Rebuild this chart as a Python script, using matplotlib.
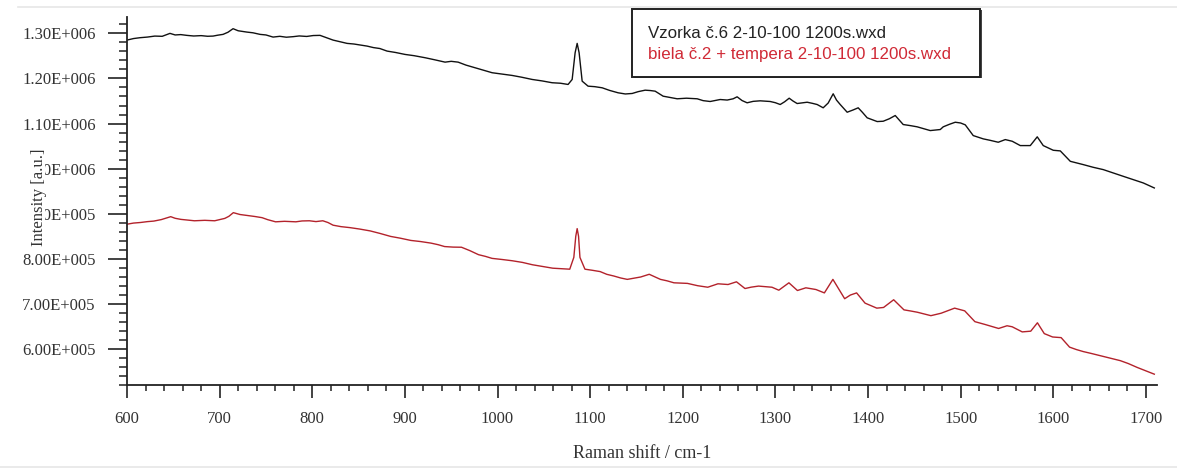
import matplotlib
matplotlib.use("Agg")
import matplotlib.pyplot as plt
from matplotlib.ticker import MultipleLocator, FuncFormatter
from matplotlib.patches import Rectangle
from matplotlib.lines import Line2D

# Raman spectra (shift in cm-1, intensity in a.u.)
shift_sample = [600, 607, 614, 622, 630, 638, 646.4, 652, 658, 664.5, 672, 680, 687, 692.9,
                698, 703.7, 709, 714.5, 720, 729.3, 736, 743.6, 750, 757.7, 765, 772, 779.3,
                786, 794, 801, 808.4, 815, 822.5, 830, 837.6, 845, 852, 859.2, 866, 873,
                880.8, 890, 900.2, 910, 921.8, 932, 943.4, 950, 957.5, 966, 975.8, 985,
                994.2, 1005, 1015.8, 1026, 1037.4, 1048, 1059, 1068, 1076.2, 1080.6, 1083.8,
                1086, 1088.1, 1091.4, 1097.8, 1105, 1113, 1121, 1130.2, 1138, 1145.4, 1152,
                1159.4, 1165, 1170.2, 1178.8, 1186, 1194, 1204, 1215.6, 1222, 1229.6, 1240.4,
                1248, 1254.4, 1258.7, 1264, 1269.5, 1276, 1283.6, 1294.4, 1300, 1305.2,
                1310, 1314.9, 1319, 1323.5, 1334.3, 1340, 1345.1, 1351.6, 1357, 1362.4,
                1366, 1370, 1377.5, 1384, 1389.4, 1394, 1399.1, 1409.9, 1416.4, 1423,
                1429.4, 1438, 1446, 1453.1, 1467.2, 1478, 1481.2, 1488, 1494.2, 1500, 1505,
                1513.6, 1524.4, 1532, 1540.6, 1548.2, 1555.7, 1564.4, 1575.2, 1582.7,
                1589.2, 1600, 1607.6, 1618.4, 1625, 1632.4, 1643, 1654, 1665, 1675.6, 1686,
                1697.2, 1709.1]
intensity_sample = [1285100, 1288500, 1290400, 1291800, 1294000, 1293500, 1300000, 1296500,
                    1297300, 1295600, 1294200, 1295000, 1293600, 1294000, 1296000, 1297800,
                    1302500, 1310400, 1305800, 1302900, 1301300, 1297800, 1296500, 1291800,
                    1293500, 1291500, 1292700, 1294300, 1293200, 1295200, 1295600, 1290800,
                    1285100, 1281500, 1277800, 1276400, 1274200, 1271800, 1268500, 1266400,
                    1260700, 1257600, 1253300, 1250500, 1246000, 1241500, 1236200, 1238000,
                    1236200, 1229600, 1223800, 1218500, 1212700, 1209700, 1206700, 1202800,
                    1197800, 1194600, 1190500, 1189400, 1186700, 1197800, 1257100, 1277800,
                    1257100, 1194000, 1182900, 1181800, 1179300, 1173500, 1168200, 1165600,
                    1166700, 1170800, 1174000, 1173200, 1171800, 1160700, 1158000, 1154900,
                    1156200, 1154900, 1150800, 1148900, 1153300, 1152100, 1154900, 1159300,
                    1151000, 1146000, 1149200, 1150400, 1148900, 1146200, 1142200, 1148300,
                    1156200, 1150000, 1144400, 1147300, 1144800, 1142200, 1134900, 1145500,
                    1166000, 1152000, 1142200, 1125100, 1130200, 1134900, 1124800, 1112700,
                    1104400, 1105100, 1110600, 1117800, 1097800, 1095300, 1092700, 1084400,
                    1086700, 1092700, 1098400, 1102900, 1101200, 1097100, 1073300, 1066000,
                    1062700, 1058500, 1064400, 1060700, 1051100, 1051100, 1070500, 1051100,
                    1040700, 1039300, 1016200, 1012800, 1008900, 1003000, 997800, 990100,
                    982900, 975800, 968200, 957100]

shift_reference = [600, 607, 614.6, 622, 628.9, 637, 647.2, 652, 658.2, 665, 672.8, 684,
                   694.7, 700, 705.6, 710, 714.8, 722, 731.2, 738, 745.8, 752, 760.4, 770,
                   782.3, 789, 796.9, 804, 811.4, 817, 822.5, 831, 840.7, 851, 862.6, 873,
                   884.6, 895, 906.4, 917, 928.3, 936, 942.9, 952, 961.1, 970, 979.5, 987,
                   994.1, 1005, 1016, 1027, 1037.8, 1049, 1059.7, 1069, 1078, 1082.4, 1084.5,
                   1086, 1087.5, 1089, 1094.4, 1102, 1110.8, 1118, 1125.5, 1133, 1140.1,
                   1154.6, 1163.8, 1175.9, 1183, 1190.5, 1205.1, 1216, 1227, 1238, 1248.9,
                   1258, 1267.2, 1274, 1281.8, 1296.3, 1303.7, 1314.6, 1323.8, 1332.9,
                   1343.8, 1352.9, 1362.1, 1369.4, 1374.8, 1381, 1387.7, 1396.8, 1409.5,
                   1416.8, 1427.7, 1438.8, 1446, 1453.3, 1467.9, 1478.9, 1493.5, 1504.4,
                   1515.4, 1526.3, 1541, 1550.1, 1555.6, 1566.5, 1575.7, 1582.9, 1590.3,
                   1599.3, 1608.5, 1617.6, 1625, 1632.3, 1641, 1650.5, 1661, 1672.4, 1681,
                   1690.7, 1700, 1709.1]
intensity_reference = [876700, 879200, 880500, 882400, 883600, 886900, 893400, 889800,
                       887400, 886000, 884300, 885300, 884300, 886800, 889600, 894200,
                       902300, 898200, 895600, 893800, 891200, 886700, 882000, 883100,
                       882000, 883900, 884300, 882500, 884300, 880400, 874500, 871300,
                       869100, 866000, 861800, 856300, 849600, 845700, 840700, 838200,
                       834700, 831200, 827100, 825900, 825600, 818200, 809100, 805300,
                       800900, 798400, 795600, 791900, 786700, 782700, 779100, 778100,
                       776900, 803100, 850000, 866900, 850000, 803100, 776900, 774600,
                       771600, 765500, 761800, 757400, 754300, 759600, 765600, 754300,
                       751100, 746700, 745400, 740300, 736900, 744500, 742900, 748900,
                       734000, 737100, 739400, 736900, 730300, 746700, 729600, 735600,
                       731800, 724300, 754300, 729600, 711400, 719600, 724300, 701600,
                       690500, 692000, 709100, 686700, 684200, 681400, 673800, 679200,
                       690500, 684500, 660500, 654300, 645400, 651400, 649200, 637800,
                       639400, 658000, 634000, 626500, 625100, 604000, 598600, 594200,
                       590000, 585100, 579800, 574000, 567600, 558900, 551300, 544000]

legend_labels = ["Vzorka č.6 2-10-100 1200s.wxd", "biela č.2 + tempera 2-10-100 1200s.wxd"]
x_label = "Raman shift / cm-1"
y_label = "Intensity [a.u.]"

BLACK = "#111111"
RED_LINE = "#b3222b"
RED_TEXT = "#d02a36"
W, H = 1177, 470

fig = plt.figure(figsize=(W / 100, H / 100), dpi=100)
fig.patch.set_facecolor("white")

# faint window frame lines
fig.add_artist(Line2D([0.015, 1.0], [1 - 7 / H, 1 - 7 / H], color="#e6e6e6", lw=1.2,
                      transform=fig.transFigure))
fig.add_artist(Line2D([0.0, 1.0], [1 - 467 / H, 1 - 467 / H], color="#e6e6e6", lw=1.2,
                      transform=fig.transFigure))

ax = fig.add_axes([127 / W, 85 / H, (1157 - 127) / W, (385 - 16.7) / H])
ax.plot(shift_sample, intensity_sample, color=BLACK, lw=1.0)
ax.plot(shift_reference, intensity_reference, color=RED_LINE, lw=1.0)

ax.set_xlim(600, 1712)
ax.set_ylim(520000, 1337000)

for side in ("top", "right"):
    ax.spines[side].set_visible(False)
for side in ("left", "bottom"):
    ax.spines[side].set_color("#222222")
    ax.spines[side].set_linewidth(1.3)

ax.xaxis.set_major_locator(MultipleLocator(100))
ax.xaxis.set_minor_locator(MultipleLocator(20))
ax.yaxis.set_major_locator(MultipleLocator(100000))
ax.yaxis.set_minor_locator(MultipleLocator(20000))


def sci_label(v, pos):
    if v <= 0:
        return ""
    exp = 0
    m = v
    while m >= 10:
        m /= 10.0
        exp += 1
    return f"{m:.2f}E+{exp:03d}"


ax.yaxis.set_major_formatter(FuncFormatter(sci_label))

serif = ["Liberation Serif", "DejaVu Serif"]
ax.tick_params(axis="x", which="major", direction="out", length=9.5, width=1.2,
               color="#222222", pad=9, labelsize=12, labelcolor="#333333")
ax.tick_params(axis="x", which="minor", direction="out", length=4, width=1.1, color="#222222")
ax.tick_params(axis="y", which="major", direction="out", length=13.5, width=1.2,
               color="#222222", pad=9, labelsize=12, labelcolor="#333333")
ax.tick_params(axis="y", which="minor", direction="out", length=5.5, width=1.1, color="#222222")
for lab in ax.get_xticklabels() + ax.get_yticklabels():
    lab.set_family(serif)

ax.set_xlabel(x_label, family=serif, fontsize=13, color="#333333", labelpad=13)

# y label sits on a white strip that hides part of the neighbouring tick labels
fig.add_artist(Rectangle((18 / W, 1 - 251 / H), 27 / W, 110 / H, transform=fig.transFigure,
                         facecolor="white", edgecolor="none", zorder=5))
fig.text(39 / W, 1 - 197 / H, y_label, rotation=90, family=serif, fontsize=12,
         color="#333333", ha="center", va="center", zorder=6)

# legend box with shadow
bx0, bx1 = 632 / W, 980 / W
by0, by1 = 1 - 77 / H, 1 - 9 / H
fig.add_artist(Rectangle((bx0 + 1.5 / W, by0 - 1.5 / H), bx1 - bx0, by1 - by0,
                         transform=fig.transFigure, facecolor="#444444", edgecolor="none"))
fig.add_artist(Rectangle((bx0, by0), bx1 - bx0, by1 - by0, transform=fig.transFigure,
                         facecolor="white", edgecolor="#222222", lw=1.4))
sans = ["Liberation Sans", "DejaVu Sans"]
fig.text(648 / W, 1 - 33 / H, legend_labels[0], family=sans, fontsize=12.2,
         color="#222222", ha="left", va="center")
fig.text(648 / W, 1 - 54 / H, legend_labels[1], family=sans, fontsize=12.2,
         color=RED_TEXT, ha="left", va="center")

fig.savefig("out.png", dpi=100, facecolor="white")
